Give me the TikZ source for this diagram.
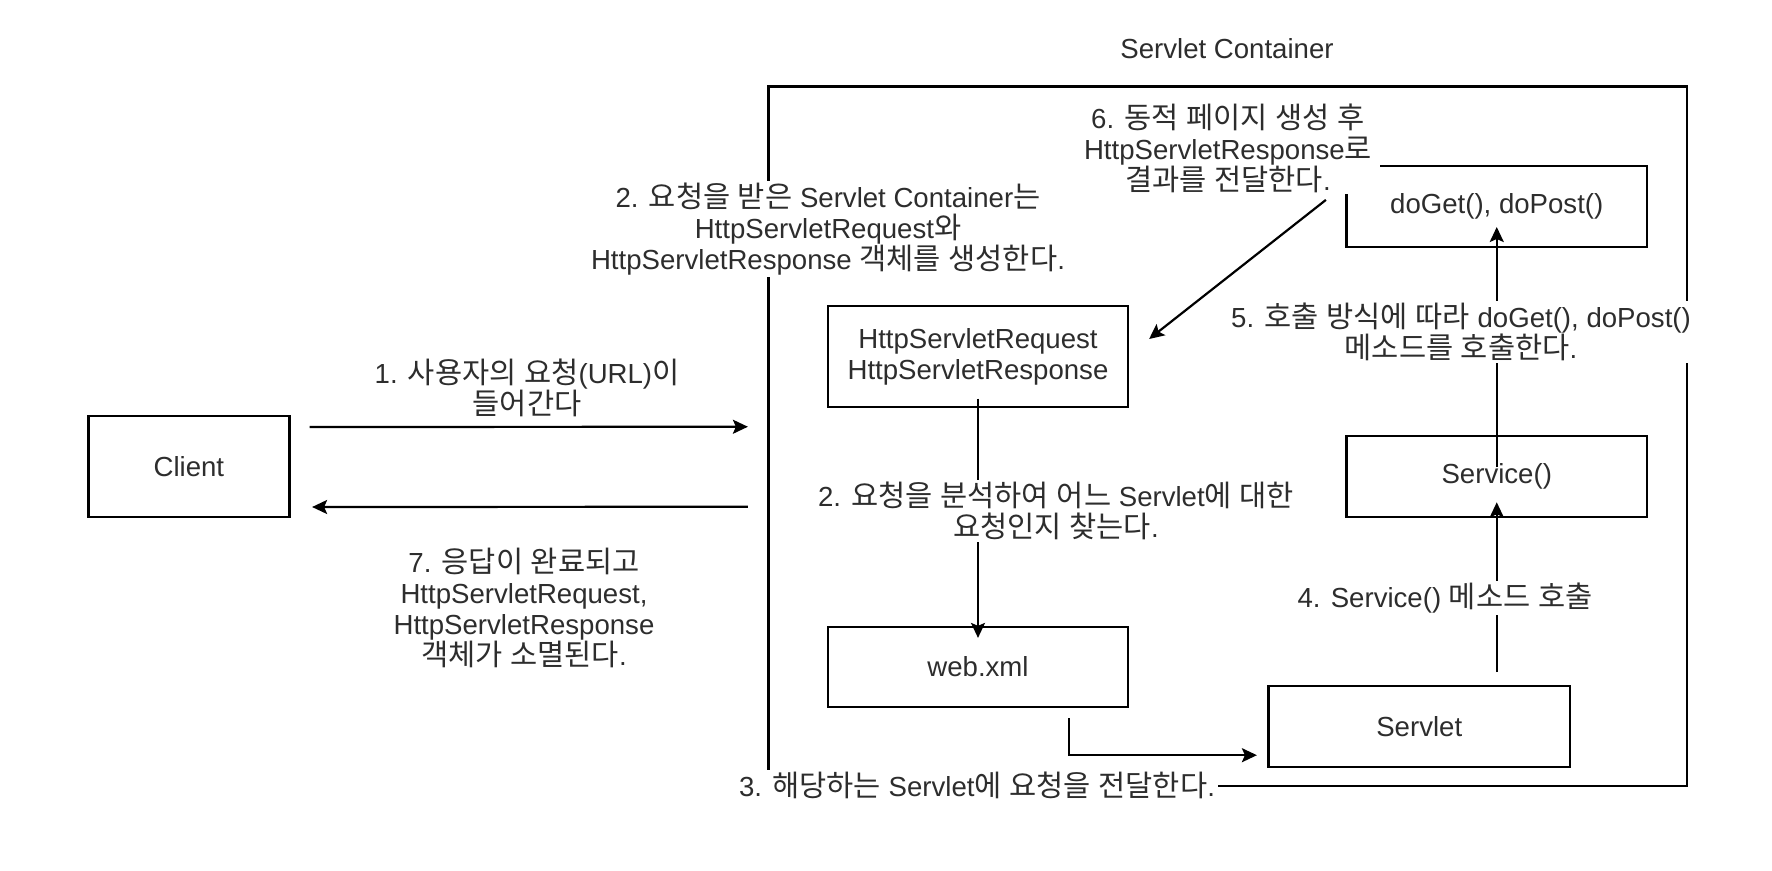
\documentclass[tikz,border=0pt]{standalone}
\usepackage{fontspec}
\setmainfont{Liberation Sans}
\newfontfamily\krfont[Scale=1.07]{Noto Sans CJK KR}
\usetikzlibrary{arrows.meta}
\XeTeXinterchartokenstate=1
\newXeTeXintercharclass\KRclass
\newcount\krc
\krc="AC00
\loop
  \XeTeXcharclass\krc=\KRclass
  \ifnum\krc<"D7A3 \advance\krc by 1 \repeat
\XeTeXinterchartoks 0 \KRclass={\krfont}
\XeTeXinterchartoks 4095 \KRclass={\krfont}
\XeTeXinterchartoks \KRclass 0={\rmfamily}
\XeTeXinterchartoks \KRclass 4095={\rmfamily}
\newcommand\diafont{\fontsize{27.6}{31}\selectfont}
\definecolor{txt}{RGB}{45,45,45}
\tikzset{
  box/.style={draw=black, line width=2.2pt, inner sep=0pt, font=\diafont, text=txt, align=center},
  lab/.style={fill=white, inner xsep=3pt, inner ysep=2pt, align=center, font=\diafont, text=txt},
  arr/.style={line width=2.2pt, -{Stealth[length=15pt,width=14pt,inset=3pt]}}
}
\begin{document}
\begin{tikzpicture}[x=1pt,y=-1pt]
\useasboundingbox (0,0) rectangle (1772,870);
\node[font=\diafont, text=txt] (title) at (1227,49) {Servlet Container};
\node[draw=black, line width=2.2pt, minimum width=918.5pt, minimum height=699.5pt, inner sep=0pt] (container) at (1227.75,436.25) {};
\node[box, minimum width=201pt, minimum height=101pt] (client) at (188.9,466.5) {Client};
\node[box, minimum width=300pt, minimum height=101pt] (req) at (978,356.5) {HttpServletRequest\\HttpServletResponse};
\node[box, minimum width=300pt, minimum height=80pt] (web) at (978,667) {web.xml};
\node[box, minimum width=301.5pt, minimum height=81pt] (servlet) at (1419.25,726.7) {Servlet};
\node[box, minimum width=300.5pt, minimum height=81pt] (service) at (1496.75,476.7) {Service()};
\node[box, minimum width=300.5pt, minimum height=81pt] (doget) at (1496.75,206.4) {doGet(), doPost()};
% connectors
\draw[arr] ([shift={(19,-39.5)}]client.east) -- ([shift={(-19.5,-9.5)}]container.west);
\draw[arr] ([shift={(-19.5,70.5)}]container.west) -- ([shift={(21.6,40.5)}]client.east);
\draw[arr] ([yshift=9.5]req.south) -- ([yshift=-12]web.north);
\draw[arr] ([shift={(91,10)}]web.south) |- ([shift={(-10.5,28.5)}]servlet.west);
\draw[arr] ([shift={(77.5,-13)}]servlet.north) -- ([yshift=16]service.south);
\draw[arr] ([yshift=-32]service.north) -- ([yshift=21]doget.south);
\draw[arr] ([shift={(-19.5,-6.5)}]doget.west) -- ([shift={(20,-17.5)}]req.east);
% labels
\node[lab] (l1) at (527,388) {1. 사용자의 요청(URL)이\\들어간다};
\node[lab] (l7) at (524,608) {7. 응답이 완료되고\\HttpServletRequest,\\HttpServletResponse\\객체가 소멸된다.};
\node[lab] (l2) at (828,229) {2. 요청을 받은 Servlet Container는\\HttpServletRequest와\\HttpServletResponse 객체를 생성한다.};
\node[lab, inner xsep=8pt] (l6) at (1228,148) {6. 동적 페이지 생성 후\\HttpServletResponse로\\결과를 전달한다.};
\node[lab] (l5) at (1461,332) {5. 호출 방식에 따라 doGet(), doPost()\\메소드를 호출한다.};
\node[lab] (l2b) at (1056,511) {2. 요청을 분석하여 어느 Servlet에 대한\\요청인지 찾는다.};
\node[lab] (l4) at (1445,598) {4. Service() 메소드 호출};
\node[lab] (l3) at (977,785) {3. 해당하는 Servlet에 요청을 전달한다.};
\end{tikzpicture}
\end{document}
